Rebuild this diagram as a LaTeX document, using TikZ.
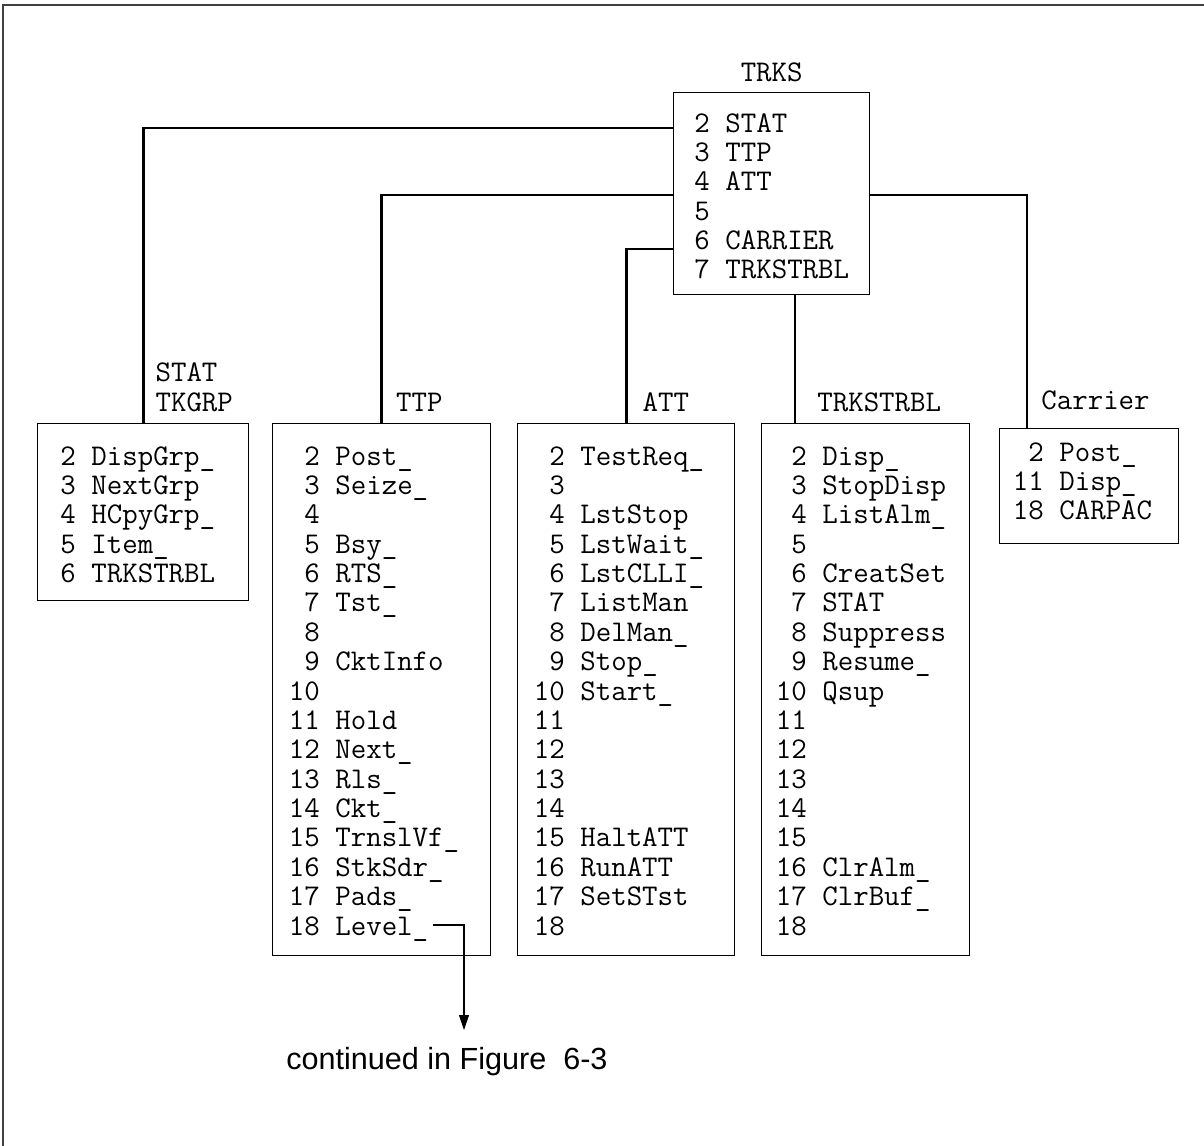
\documentclass[tikz,border=0pt]{standalone}
\usepackage{fontspec}
\setsansfont{Liberation Sans}
\usetikzlibrary{arrows.meta, positioning, calc}

\newcommand\ent[2]{\makebox[1.05em][r]{#1}\ #2}
\newcommand\us{\char95\relax}

\begin{document}
\begin{tikzpicture}[
        x=0.02cm, y=-0.02cm,
        every node/.style={font=\ttfamily\fontsize{17.1}{16.72}\selectfont, inner sep=0pt},
        pane/.style 2 args={draw, line width=0.8pt, anchor=north west, minimum width=#1*0.02cm, minimum height=#2*0.02cm},
        list/.style={anchor=base west},
        tag/.style={anchor=base west},
        link/.style={line width=1.6pt},
        flow/.style={-{Triangle[length=0.3cm, width=0.2cm]}, line width=0.6pt},
    ]
    \useasboundingbox (0,0) rectangle (1204,1146);

    %% Frame
    \draw[black!75, line width=0.6pt] (1204,5) -- (3,5) -- (3,1146);

    %% Top box
    \node[pane={196}{202}] (trks) at (673,92) {};
    \node[anchor=base] (trks-t) at ($(trks.north)+(0,-11)$) {TRKS};
    \node[list] (trks-l) at ($(trks.north west)+(5,40)$) {\begin{tabular}[t]{@{}l@{}}
        \ent{2}{STAT}\\ \ent{3}{TTP}\\ \ent{4}{ATT}\\ \ent{5}{}\\ \ent{6}{CARRIER}\\ \ent{7}{TRKSTRBL}
    \end{tabular}};

    %% Second level boxes
    \node[pane={211}{177}] (stat) at (37,423) {};
    \node[pane={218}{532}] (ttp) at (272,423) {};
    \node[pane={217}{532}] (att) at (517,423) {};
    \node[pane={208}{532}] (trkstrbl) at (761,423) {};
    \node[pane={179}{115}] (carrier) at (999,428) {};

    %% Box titles
    \node[tag] (stat-t) at ($(stat.north)+(12,-12)$) {\begin{tabular}[b]{@{}l@{}}STAT\\TKGRP\end{tabular}};
    \node[tag] (ttp-t) at ($(ttp.north)+(14,-12)$) {TTP};
    \node[tag] (att-t) at ($(att.north)+(16,-12)$) {ATT};
    \node[tag] (trkstrbl-t) at ($(trkstrbl.north west)+(56,-12)$) {TRKSTRBL};
    \node[tag] (carrier-t) at ($(carrier.north west)+(42,-19)$) {Carrier};

    %% Box contents
    \node[list] (stat-l) at ($(stat.north west)+(7,42)$) {\begin{tabular}[t]{@{}l@{}}
        \ent{2}{DispGrp\us}\\ \ent{3}{NextGrp}\\ \ent{4}{HCpyGrp\us}\\ \ent{5}{Item\us}\\ \ent{6}{TRKSTRBL}
    \end{tabular}};
    \node[list] (ttp-l) at ($(ttp.north west)+(16,42)$) {\begin{tabular}[t]{@{}l@{}}
        \ent{2}{Post\us}\\ \ent{3}{Seize\us}\\ \ent{4}{}\\ \ent{5}{Bsy\us}\\ \ent{6}{RTS\us}\\
        \ent{7}{Tst\us}\\ \ent{8}{}\\ \ent{9}{CktInfo}\\ \ent{10}{}\\ \ent{11}{Hold}\\
        \ent{12}{Next\us}\\ \ent{13}{Rls\us}\\ \ent{14}{Ckt\us}\\ \ent{15}{TrnslVf\us}\\
        \ent{16}{StkSdr\us}\\ \ent{17}{Pads\us}\\ \ent{18}{Level\us}
    \end{tabular}};
    \node[list] (att-l) at ($(att.north west)+(16,42)$) {\begin{tabular}[t]{@{}l@{}}
        \ent{2}{TestReq\us}\\ \ent{3}{}\\ \ent{4}{LstStop}\\ \ent{5}{LstWait\us}\\ \ent{6}{LstCLLI\us}\\
        \ent{7}{ListMan}\\ \ent{8}{DelMan\us}\\ \ent{9}{Stop\us}\\ \ent{10}{Start\us}\\ \ent{11}{}\\
        \ent{12}{}\\ \ent{13}{}\\ \ent{14}{}\\ \ent{15}{HaltATT}\\
        \ent{16}{RunATT}\\ \ent{17}{SetSTst}\\ \ent{18}{}
    \end{tabular}};
    \node[list] (trkstrbl-l) at ($(trkstrbl.north west)+(14,42)$) {\begin{tabular}[t]{@{}l@{}}
        \ent{2}{Disp\us}\\ \ent{3}{StopDisp}\\ \ent{4}{ListAlm\us}\\ \ent{5}{}\\ \ent{6}{CreatSet}\\
        \ent{7}{STAT}\\ \ent{8}{Suppress}\\ \ent{9}{Resume\us}\\ \ent{10}{Qsup}\\ \ent{11}{}\\
        \ent{12}{}\\ \ent{13}{}\\ \ent{14}{}\\ \ent{15}{}\\
        \ent{16}{ClrAlm\us}\\ \ent{17}{ClrBuf\us}\\ \ent{18}{}
    \end{tabular}};
    \node[list] (carrier-l) at ($(carrier.north west)+(13,33)$) {\begin{tabular}[t]{@{}l@{}}
        \ent{2}{Post\us}\\ \ent{11}{Disp\us}\\ \ent{18}{CARPAC}
    \end{tabular}};

    %% Links from TRKS
    \draw[link] ($(trks.north west)+(0,36)$) -| (stat.north);
    \draw[link] ($(trks.north west)+(0,103)$) -| (ttp.north);
    \draw[link] ($(trks.north west)+(0,157)$) -| (att.north);
    \draw[link] ($(trks.north east)+(0,103)$) -| ($(carrier.north west)+(28,0)$);
    \draw[link] ($(trks.south west)+(122,0)$) -- ($(trkstrbl.north west)+(34,0)$);

    %% Continuation
    \node[font=\sffamily\fontsize{17.4}{20}\selectfont, anchor=base west] (cont) at (286,1069) {continued in Figure\ \ 6-3};
    \coordinate (lvl) at ($(ttp.north west)+(161,502)$);
    \coordinate (tip) at (464,1030);
    \draw[flow] (lvl) -| (tip);

\end{tikzpicture}
\end{document}
